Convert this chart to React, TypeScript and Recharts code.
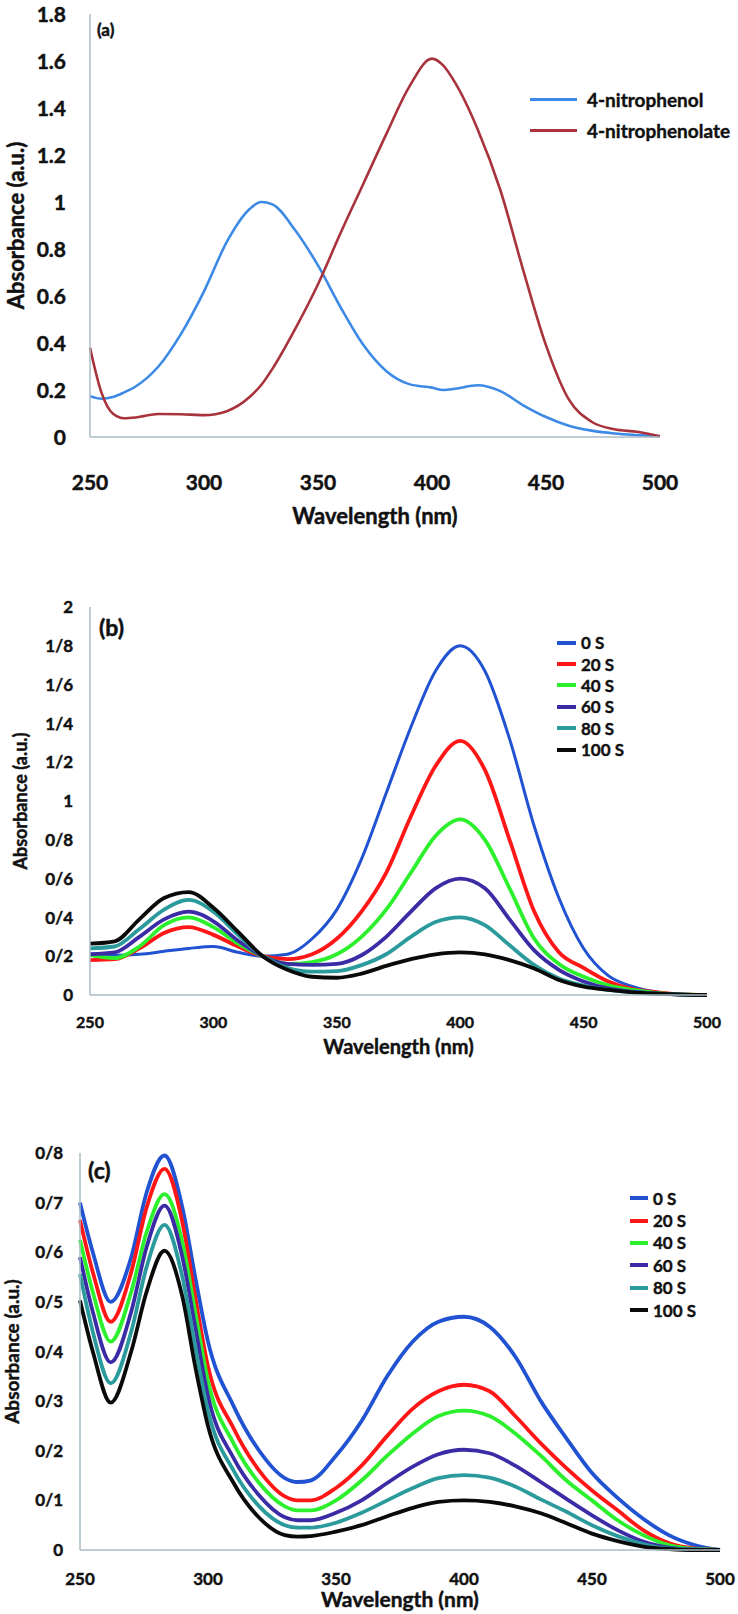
import React from 'react';
import { LineChart, Line, XAxis, YAxis, Legend, Label } from 'recharts';

const FONT = 'Lato, "Open Sans", sans-serif';
const INK = '#111111';
const AXIS = '#a9bcc6';

// ---- shared ----
const xTicks = [250, 300, 350, 400, 450, 500];
const timeNames = ['0 S', '20 S', '40 S', '60 S', '80 S', '100 S'];
const timeColors = ['#2052d2', '#ff1616', '#2cf02c', '#3b2ca6', '#2b9a9c', '#0a0a0a'];

// ---- panel (a) ----
const wlA = [250, 255, 260, 265, 270, 280, 290, 300, 310, 320, 325, 330, 340, 350, 360, 370, 380, 390, 400, 405, 410, 420, 430, 440, 450, 460, 470, 480, 490, 500];
const nitrophenol = [0.174, 0.163, 0.17, 0.19, 0.215, 0.3, 0.44, 0.62, 0.83, 0.97, 1.0, 0.99, 0.88, 0.73, 0.55, 0.39, 0.28, 0.225, 0.21, 0.2, 0.205, 0.22, 0.195, 0.135, 0.085, 0.048, 0.027, 0.015, 0.008, 0.003];
const nitrophenolate = [0.38, 0.19, 0.1, 0.08, 0.083, 0.098, 0.097, 0.093, 0.11, 0.17, 0.22, 0.29, 0.46, 0.65, 0.87, 1.08, 1.29, 1.49, 1.61, 1.58, 1.51, 1.31, 1.05, 0.71, 0.39, 0.16, 0.065, 0.033, 0.022, 0.003];
const yTicksA = [0, 0.2, 0.4, 0.6, 0.8, 1, 1.2, 1.4, 1.6, 1.8];
const namesA = ['4-nitrophenol', '4-nitrophenolate'];
const colorsA = ['#3d8ae6', '#a8333c'];

// ---- panel (b) ----
const wlB = [250, 260, 270, 280, 290, 300, 310, 320, 330, 340, 350, 360, 370, 380, 390, 400, 410, 420, 430, 440, 450, 460, 470, 480, 490, 500];
const b0 = [0.205, 0.205, 0.21, 0.225, 0.24, 0.25, 0.22, 0.2, 0.21, 0.29, 0.44, 0.7, 1.04, 1.38, 1.67, 1.8, 1.67, 1.32, 0.87, 0.5, 0.24, 0.1, 0.043, 0.014, 0.003, 0];
const b20 = [0.18, 0.185, 0.24, 0.32, 0.35, 0.31, 0.25, 0.2, 0.185, 0.21, 0.29, 0.43, 0.63, 0.92, 1.18, 1.31, 1.16, 0.8, 0.43, 0.22, 0.14, 0.07, 0.03, 0.014, 0.003, 0];
const b40 = [0.205, 0.19, 0.25, 0.36, 0.4, 0.35, 0.265, 0.2, 0.16, 0.17, 0.21, 0.3, 0.44, 0.63, 0.82, 0.905, 0.8, 0.55, 0.29, 0.16, 0.094, 0.05, 0.026, 0.01, 0.003, 0];
const b60 = [0.21, 0.22, 0.3, 0.39, 0.43, 0.38, 0.28, 0.2, 0.16, 0.155, 0.16, 0.205, 0.3, 0.43, 0.55, 0.6, 0.55, 0.39, 0.23, 0.13, 0.07, 0.034, 0.017, 0.007, 0.002, 0];
const b80 = [0.24, 0.25, 0.34, 0.44, 0.49, 0.43, 0.31, 0.2, 0.14, 0.12, 0.123, 0.154, 0.21, 0.3, 0.376, 0.4, 0.36, 0.256, 0.154, 0.085, 0.048, 0.026, 0.014, 0.007, 0.002, 0];
const b100 = [0.265, 0.277, 0.39, 0.5, 0.53, 0.45, 0.325, 0.2, 0.13, 0.094, 0.089, 0.11, 0.15, 0.185, 0.21, 0.22, 0.21, 0.18, 0.137, 0.077, 0.043, 0.026, 0.014, 0.007, 0.002, 0];
const yTicksB = [0, 0.2, 0.4, 0.6, 0.8, 1, 1.2, 1.4, 1.6, 1.8, 2];

// ---- panel (c) ----
const wlC = [250, 255, 262, 270, 276, 283, 290, 295, 300, 310, 320, 330, 335, 340, 350, 360, 370, 380, 390, 400, 410, 420, 430, 440, 450, 460, 470, 480, 490, 500];
const c0 = [0.7, 0.6, 0.5, 0.59, 0.72, 0.795, 0.69, 0.55, 0.42, 0.29, 0.2, 0.145, 0.137, 0.14, 0.19, 0.26, 0.35, 0.42, 0.46, 0.47, 0.45, 0.39, 0.3, 0.225, 0.155, 0.105, 0.063, 0.03, 0.01, 0];
const c20 = [0.665, 0.56, 0.46, 0.56, 0.69, 0.768, 0.66, 0.51, 0.37, 0.245, 0.16, 0.108, 0.1, 0.1, 0.125, 0.17, 0.23, 0.285, 0.32, 0.333, 0.32, 0.27, 0.215, 0.165, 0.12, 0.08, 0.04, 0.014, 0.003, 0];
const c40 = [0.625, 0.52, 0.42, 0.52, 0.64, 0.717, 0.62, 0.48, 0.34, 0.215, 0.135, 0.088, 0.08, 0.08, 0.1, 0.14, 0.19, 0.235, 0.27, 0.281, 0.27, 0.235, 0.19, 0.14, 0.1, 0.06, 0.03, 0.01, 0.002, 0];
const c60 = [0.59, 0.48, 0.378, 0.48, 0.61, 0.694, 0.59, 0.45, 0.31, 0.185, 0.11, 0.066, 0.06, 0.06, 0.075, 0.1, 0.135, 0.168, 0.193, 0.202, 0.195, 0.17, 0.137, 0.103, 0.07, 0.04, 0.017, 0.005, 0.001, 0];
const c80 = [0.556, 0.44, 0.336, 0.44, 0.57, 0.655, 0.55, 0.41, 0.28, 0.16, 0.088, 0.05, 0.045, 0.045, 0.055, 0.075, 0.1, 0.125, 0.145, 0.151, 0.146, 0.128, 0.102, 0.077, 0.05, 0.028, 0.012, 0.003, 0.001, 0];
const c100 = [0.503, 0.4, 0.297, 0.4, 0.52, 0.603, 0.51, 0.37, 0.25, 0.135, 0.065, 0.03, 0.027, 0.028, 0.037, 0.05, 0.068, 0.085, 0.097, 0.1, 0.097, 0.088, 0.074, 0.054, 0.033, 0.018, 0.007, 0.002, 0, 0];
const yTicksC = [0, 0.1, 0.2, 0.3, 0.4, 0.5, 0.6, 0.7, 0.8];

function toRows(wl: number[], series: number[][]) {
  return wl.map((w, i) => {
    const row: Record<string, number> = { wl: w };
    series.forEach((s, j) => { row['s' + j] = s[i]; });
    return row;
  });
}

// decimal comma printed as "/" in panels (b) and (c)
const fmtDot = (v: number) => String(v);
const fmtSlash = (v: number) => (Number.isInteger(v) ? String(v) : String(v).replace('.', '/'));

// a thin stroke to thicken Lato bold a bit
const heavy = { stroke: INK, strokeWidth: 0.45, paintOrder: 'stroke' as const };

const xTick = (gap: number, size: number) => (p: any) => (
  <text x={p.x} y={p.y + gap} dy="0.36em" textAnchor="middle"
    fontSize={size} fontWeight={700} fontFamily={FONT} fill={INK} {...heavy}>
    {p.payload.value}
  </text>
);

const yTick = (gap: number, size: number, fmt: (v: number) => string) => (p: any) => (
  <text x={p.x - gap} y={p.y} dy="0.36em" textAnchor="end"
    fontSize={size} fontWeight={700} fontFamily={FONT} fill={INK} {...heavy}>
    {fmt(p.payload.value)}
  </text>
);

const legendBox = (names: string[], colors: string[], o: { size: number; row: number; line: number; thick: number; gap: number }) => () => (
  <div style={{ fontFamily: FONT, fontWeight: 700, fontSize: o.size, color: INK, lineHeight: 1, WebkitTextStroke: '0.4px #111' }}>
    {names.map((n, i) => (
      <div key={n} style={{ display: 'flex', alignItems: 'center', height: o.row, whiteSpace: 'nowrap' }}>
        <span style={{ display: 'inline-block', width: o.line, height: o.thick, background: colors[i], marginRight: o.gap }} />
        <span>{n}</span>
      </div>
    ))}
  </div>
);

const titleStyle = (size: number) => ({ fontSize: size, fontWeight: 700, fontFamily: FONT, fill: INK, stroke: INK, strokeWidth: 0.45 });

function PanelTag({ text, left, top, size }: { text: string; left: number; top: number; size: number }) {
  return (
    <div style={{ position: 'absolute', left, top, fontFamily: FONT, fontWeight: 700, fontSize: size, lineHeight: 1, color: INK, WebkitTextStroke: '0.5px #111' }}>
      {text}
    </div>
  );
}

export default function App() {
  const dataA = toRows(wlA, [nitrophenol, nitrophenolate]);
  const dataB = toRows(wlB, [b0, b20, b40, b60, b80, b100]);
  const dataC = toRows(wlC, [c0, c20, c40, c60, c80, c100]);

  return (
    <div style={{ position: 'absolute', left: 0, top: 0, width: 738, height: 1614, background: '#fff', overflow: 'hidden' }}>
      {/* (a) */}
      <div style={{ position: 'absolute', left: 0, top: 0 }}>
        <LineChart width={738} height={540} data={dataA} margin={{ top: 14, right: 78, bottom: 8, left: 0 }}>
          <XAxis type="number" dataKey="wl" domain={[250, 500]} ticks={xTicks} interval={0}
            height={95} tickSize={0} tickMargin={0} tickLine={false}
            axisLine={{ stroke: AXIS, strokeWidth: 1.5 }} tick={xTick(45, 21)}>
            <Label value="Wavelength (nm)" position="insideBottom" offset={8} style={titleStyle(22)} />
          </XAxis>
          <YAxis type="number" domain={[0, 1.8]} ticks={yTicksA} interval={0}
            width={90} tickSize={0} tickMargin={0} tickLine={false}
            axisLine={{ stroke: AXIS, strokeWidth: 1.5 }} tick={yTick(24, 21, fmtDot)}>
            <Label value="Absorbance (a.u.)" angle={-90} position="insideLeft" offset={16}
              style={{ ...titleStyle(22), textAnchor: 'middle' }} />
          </YAxis>
          <Legend layout="vertical" align="center" verticalAlign="middle"
            wrapperStyle={{ left: 530, top: 84, width: 'auto' }}
            content={legendBox(namesA, colorsA, { size: 19, row: 31, line: 47, thick: 3, gap: 10 })} />
          {namesA.map((n, i) => (
            <Line key={n} name={n} type="monotone" dataKey={'s' + i} stroke={colorsA[i]} strokeWidth={2.6}
              dot={false} activeDot={false} isAnimationActive={false} />
          ))}
        </LineChart>
        <PanelTag text="(a)" left={97} top={21} size={17} />
      </div>

      {/* (b) */}
      <div style={{ position: 'absolute', left: 0, top: 540 }}>
        <LineChart width={738} height={540} data={dataB} margin={{ top: 67, right: 31, bottom: 0, left: 0 }}>
          <XAxis type="number" dataKey="wl" domain={[250, 500]} ticks={xTicks} interval={0}
            height={85} tickSize={0} tickMargin={0} tickLine={false}
            axisLine={{ stroke: AXIS, strokeWidth: 1.5 }} tick={xTick(27, 16)}>
            <Label value="Wavelength (nm)" position="insideBottom" offset={26} style={titleStyle(20)} />
          </XAxis>
          <YAxis type="number" domain={[0, 2]} ticks={yTicksB} interval={0}
            width={90} tickSize={0} tickMargin={0} tickLine={false}
            axisLine={{ stroke: AXIS, strokeWidth: 1.5 }} tick={yTick(17, 17, fmtSlash)}>
            <Label value="Absorbance (a.u.)" angle={-90} position="insideLeft" offset={21}
              style={{ ...titleStyle(18), textAnchor: 'middle' }} />
          </YAxis>
          <Legend layout="vertical" align="center" verticalAlign="middle"
            wrapperStyle={{ left: 557, top: 92, width: 'auto' }}
            content={legendBox(timeNames, timeColors, { size: 17, row: 21.4, line: 19, thick: 4, gap: 5 })} />
          {timeNames.map((n, i) => (
            <Line key={n} name={n} type="monotone" dataKey={'s' + i} stroke={timeColors[i]} strokeWidth={i === 0 ? 3 : 3.8}
              dot={false} activeDot={false} isAnimationActive={false} />
          ))}
        </LineChart>
        <PanelTag text="(b)" left={99} top={76} size={23} />
      </div>

      {/* (c) */}
      <div style={{ position: 'absolute', left: 0, top: 1080 }}>
        <LineChart width={738} height={534} data={dataC} margin={{ top: 73, right: 18, bottom: 0, left: 0 }}>
          <XAxis type="number" dataKey="wl" domain={[250, 500]} ticks={xTicks} interval={0}
            height={64} tickSize={0} tickMargin={0} tickLine={false}
            axisLine={{ stroke: AXIS, strokeWidth: 1.5 }} tick={xTick(29, 17)}>
            <Label value="Wavelength (nm)" position="insideBottom" offset={7} style={titleStyle(21)} />
          </XAxis>
          <YAxis type="number" domain={[0, 0.8]} ticks={yTicksC} interval={0}
            width={80} tickSize={0} tickMargin={0} tickLine={false}
            axisLine={{ stroke: AXIS, strokeWidth: 1.5 }} tick={yTick(17, 17, fmtSlash)}>
            <Label value="Absorbance (a.u.)" angle={-90} position="insideLeft" offset={12}
              style={{ ...titleStyle(19), textAnchor: 'middle' }} />
          </YAxis>
          <Legend layout="vertical" align="center" verticalAlign="middle"
            wrapperStyle={{ left: 630, top: 107, width: 'auto' }}
            content={legendBox(timeNames, timeColors, { size: 17, row: 22.4, line: 18, thick: 4, gap: 5 })} />
          {timeNames.map((n, i) => (
            <Line key={n} name={n} type="monotone" dataKey={'s' + i} stroke={timeColors[i]} strokeWidth={3.8}
              dot={false} activeDot={false} isAnimationActive={false} />
          ))}
        </LineChart>
        <PanelTag text="(c)" left={88} top={79} size={23} />
      </div>
    </div>
  );
}
